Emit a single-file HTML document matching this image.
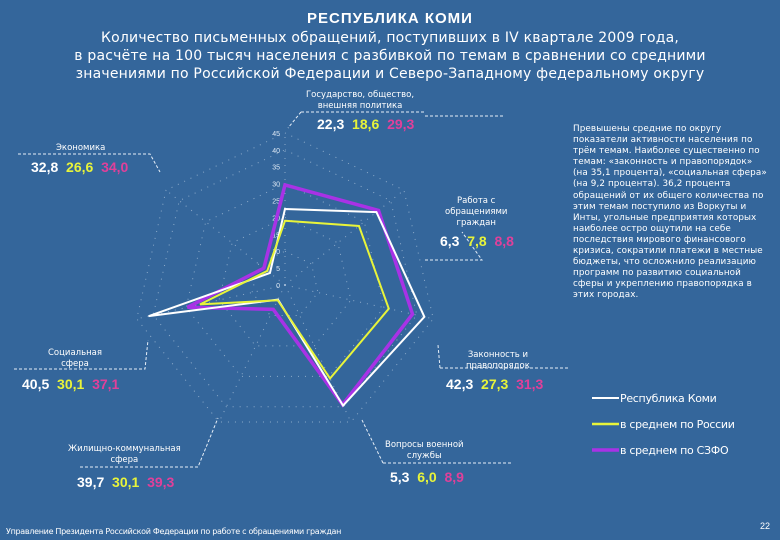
<!DOCTYPE html>
<html><head><meta charset="utf-8"><style>
body{margin:0;background:#34669b;}
#root{position:relative;width:780px;height:540px;background:#34669b;overflow:hidden;font-family:"Liberation Sans","DejaVu Sans",sans-serif;color:#fff}
.t{position:absolute;white-space:nowrap;font-family:"Liberation Sans","DejaVu Sans",sans-serif}
.lb{font-family:"DejaVu Sans",sans-serif;font-size:8.5px;text-align:center;line-height:11px;color:#fff}
.v{font-size:14px;font-weight:bold}
</style></head><body>
<div id="root">
<div class="t" style="left:0;width:780px;top:10px;text-align:center;font-weight:bold;font-size:15px;letter-spacing:1px">РЕСПУБЛИКА КОМИ</div>
<div class="t" style="left:0;width:780px;top:29px;text-align:center;font-size:14px;line-height:18px;font-family:'DejaVu Sans',sans-serif;letter-spacing:0.2px">Количество письменных обращений, поступивших в IV квартале 2009 года,<br>в расчёте на 100 тысяч населения с разбивкой по темам в сравнении со средними<br>значениями по Российской Федерации и Северо-Западному федеральному округу</div>
<svg id="chart" width="780" height="540" style="position:absolute;left:0;top:0"></svg>
<div class="t" style="left:573px;top:124px;font-size:8.8px;line-height:11.1px;white-space:normal;width:196px;font-family:'DejaVu Sans',sans-serif;letter-spacing:0.1px">Превышены средние по округу показатели активности населения по трём темам. Наиболее существенно по темам: «законность и правопорядок» (на 35,1 процента), «социальная сфера» (на 9,2 процента). 36,2 процента обращений от их общего количества по этим темам поступило из Воркуты и Инты, угольные предприятия которых наиболее остро ощутили на себе последствия мирового финансового кризиса, сократили платежи в местные бюджеты, что осложнило реализацию программ по развитию социальной сферы и укреплению правопорядка в этих городах.</div>
<div class="t" style="left:6px;top:527px;font-size:8px;font-family:'DejaVu Sans',sans-serif;letter-spacing:-0.3px">Управление Президента Российской Федерации по работе с обращениями граждан</div>
<div class="t" style="left:760px;top:521px;font-size:9px">22</div>

<div class="t lb" style="left:306px;top:90px">Государство, общество,<br>внешняя политика</div>
<div class="t v" style="left:317px;top:116px"><span style="color:#fff">22,3</span>&nbsp; <span style="color:#e8f43a">18,6</span>&nbsp; <span style="color:#e0409a">29,3</span></div>
<div class="t lb" style="left:56px;top:143px">Экономика</div>
<div class="t v" style="left:31px;top:159px"><span style="color:#fff">32,8</span>&nbsp; <span style="color:#e8f43a">26,6</span>&nbsp; <span style="color:#e0409a">34,0</span></div>
<div class="t lb" style="left:445px;top:196px">Работа с<br>обращениями<br>граждан</div>
<div class="t v" style="left:440px;top:233px"><span style="color:#fff">6,3</span>&nbsp; <span style="color:#e8f43a">7,8</span>&nbsp; <span style="color:#e0409a">8,8</span></div>
<div class="t lb" style="left:48px;top:348px">Социальная<br>сфера</div>
<div class="t v" style="left:22px;top:376px"><span style="color:#fff">40,5</span>&nbsp; <span style="color:#e8f43a">30,1</span>&nbsp; <span style="color:#e0409a">37,1</span></div>
<div class="t lb" style="left:466px;top:350px">Законность и<br>правопорядок</div>
<div class="t v" style="left:446px;top:376px"><span style="color:#fff">42,3</span>&nbsp; <span style="color:#e8f43a">27,3</span>&nbsp; <span style="color:#e0409a">31,3</span></div>
<div class="t lb" style="left:68px;top:444px">Жилищно-коммунальная<br>сфера</div>
<div class="t v" style="left:77px;top:474px"><span style="color:#fff">39,7</span>&nbsp; <span style="color:#e8f43a">30,1</span>&nbsp; <span style="color:#e0409a">39,3</span></div>
<div class="t lb" style="left:385px;top:440px">Вопросы военной<br>службы</div>
<div class="t v" style="left:390px;top:469px"><span style="color:#fff">5,3</span>&nbsp; <span style="color:#e8f43a">6,0</span>&nbsp; <span style="color:#e0409a">8,9</span></div>
</div>
<script>
const categories=["Государство","Экономика","Законность","Жилищно-коммунальная","Вопросы военной службы","Социальная","Работа с обращениями"];
const komiValues=[22.5,34.6,42.3,39.6,4.8,41.4,5.7];
const russiaValues=[19,28,31.5,30.7,5,25.8,6.7];
const szfoValues=[29.6,35.4,38.7,39.3,8,29.6,8];
const tickLabels=[0,5,10,15,20,25,30,35,40,45];
const legendNames=["Республика Коми","в среднем по России","в среднем по СЗФО"];
const cx=285,cy=285,k=3.38,maxV=45;
const svg=document.getElementById('chart');const NS='http://www.w3.org/2000/svg';
function ang(i){return i*2*Math.PI/categories.length;}
function px(i,v){return cx+Math.sin(ang(i))*v*k;}
function py(i,v){return cy-Math.cos(ang(i))*v*k;}
function mk(t,a){const e=document.createElementNS(NS,t);for(const x in a)e.setAttribute(x,a[x]);svg.appendChild(e);return e;}
tickLabels.forEach((t,j)=>{if(t===0||t%10!==0&&t!==45)return;
 const pts=categories.map((c,i)=>px(i,t)+','+py(i,t)).join(' ');
 const g=mk('polygon',{points:pts,fill:'none',stroke:'#c8d8ea','stroke-width':1,'stroke-dasharray':'1 6',opacity:0.6});
 
 
});
categories.forEach((c,i)=>{
 const l=mk('line',{x1:cx,y1:cy,x2:px(i,maxV),y2:py(i,maxV),stroke:'#c8d8ea','stroke-width':1,'stroke-dasharray':'1 6',opacity:0.6});
 
 
});
tickLabels.forEach(t=>{
 const e=mk('text',{x:cx-5,y:py(0,t)+3,'font-size':7,fill:'#dde8f4','text-anchor':'end','font-family':'Liberation Sans,sans-serif'});
 e.textContent=t;
 
 
});
function series(vals,col,w,name){
 const pts=vals.map((v,i)=>px(i,v)+','+py(i,v)).join(' ');
 const p=mk('polygon',{points:pts,fill:'none',stroke:col,'stroke-width':w,'stroke-linejoin':'miter'});
 
 
}
series(szfoValues,'#a832e6',3.5,'series-szfo');
series(komiValues,'#ffffff',2,'series-komi');
series(russiaValues,'#e8f43a',2,'series-russia');
const legCols=['#ffffff','#e8f43a','#a832e6'];const legW=[2,2.5,3.5];
legendNames.forEach((n,i)=>{const y=398+i*26;
 const l=mk('line',{x1:592,y1:y,x2:619,y2:y,stroke:legCols[i],'stroke-width':legW[i]});
 
 
 const t=mk('text',{x:620,y:y+4,'font-size':11,fill:'#fff','font-family':'DejaVu Sans,sans-serif','letter-spacing':'-0.3'});
 t.textContent=n;
 
 
});
const leaders=[
 "M425,116 L503,116 M301,112 L425,112 M301,112 L288,128",
 "M18,154 L150,154 L160,172",
 "M425,260 L482,260 L462,232",
 "M440,368 L568,368 M440,368 L438,345",
 "M14,369 L145,369 L148,340",
 "M80,467 L198,467 L218,418",
 "M383,463 L512,463 M383,463 L362,420"
];
leaders.forEach(d=>{const p=mk('path',{d:d,fill:'none',stroke:'#e6eef7','stroke-width':1,'stroke-dasharray':'3 2'});
 
 
});
</script>
</body></html>
